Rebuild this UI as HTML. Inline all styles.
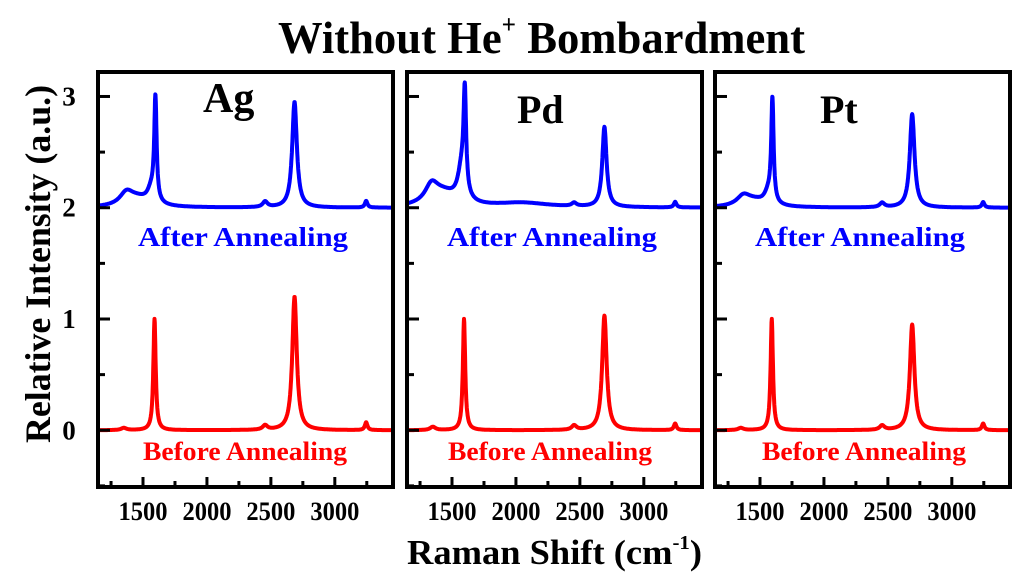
<!DOCTYPE html>
<html><head><meta charset="utf-8"><style>
html,body{margin:0;padding:0;background:#fff;}
svg{display:block;font-family:"Liberation Serif",serif;font-weight:bold;}
</style></head><body>
<svg id="chart" width="1024" height="585" viewBox="0 0 1024 585">
<text x="278" y="53" font-size="46" textLength="527" lengthAdjust="spacingAndGlyphs">Without He<tspan dy="-20" font-size="26">+</tspan><tspan dy="20"> Bombardment</tspan></text>
<text transform="translate(50,264) rotate(-90)" text-anchor="middle" font-size="36" textLength="358" lengthAdjust="spacingAndGlyphs">Relative Intensity (a.u.)</text>
<text x="407" y="564" font-size="35" textLength="295" lengthAdjust="spacingAndGlyphs">Raman Shift (cm<tspan dy="-15" font-size="20">-1</tspan><tspan dy="15">)</tspan></text>
<g id="plots"></g>
</svg>
<script>
// data
const panelNames = ["Ag", "Pd", "Pt"];
const xTicks = [1500, 2000, 2500, 3000];
const yTicks = [0, 1, 2, 3];
// peaks: [center cm-1, height, half-width]
const afterPeaks = [
  [[1370,0.1,60],[1450,0.08,120],[1597,0.92,11],[1565,0.12,35],[2455,0.05,22],[2685,0.95,22],[3245,0.06,12]],
  [[1340,0.15,60],[1430,0.12,130],[1600,0.88,12],[1575,0.28,35],[2050,0.04,250],[2455,0.03,22],[2692,0.72,20],[3245,0.05,12]],
  [[1370,0.08,60],[1450,0.06,120],[1597,0.92,11],[1565,0.1,35],[2455,0.04,22],[2690,0.84,22],[3245,0.05,12]]
];
const beforePeaks = [
  [[1350,0.02,25],[1590,1.0,11],[2455,0.04,22],[2685,1.2,21],[3245,0.07,12]],
  [[1350,0.03,25],[1594,1.0,11],[2455,0.04,22],[2692,1.03,21],[3245,0.06,12]],
  [[1350,0.02,25],[1592,1.0,11],[2455,0.04,22],[2690,0.95,21],[3245,0.06,12]]
];
const afterOffset = 2.0;
const beforeOffset = 0.0;

const NS="http://www.w3.org/2000/svg";
const g=document.getElementById('plots');
const lefts=[98,407,715], W=295, TOP=72, BOT=487;
const X0=1148, X1=3455, Y0=-0.51, Y1=3.22;
const labelPos=[[203,112,42],[517,123,40],[820,123,40]];
const afterX=[138,447,755], beforeX=[143,448,762];
function mk(t,a,p){const e=document.createElementNS(NS,t);for(const k in a)e.setAttribute(k,a[k]);(p||g).appendChild(e);return e;}
function spectrum(peaks,x){let s=0;for(const [c,h,w] of peaks){s+=h*w*w/((x-c)*(x-c)+w*w);}return s;}
panelNames.forEach((name,i)=>{
  const L=lefts[i];
  const sx=v=>L+(v-X0)/(X1-X0)*W;
  const sy=v=>BOT-(v-Y0)/(Y1-Y0)*(BOT-TOP);
  const pg=mk('g',{});
  
  
  [[afterPeaks[i],afterOffset,'#0000ff','after'],[beforePeaks[i],beforeOffset,'#ff0000','before']].forEach(([pk,off,col,lab])=>{
    let d='';
    for(let x=X0+4;x<=X1-4;x+=2){d+=(d?'L':'M')+sx(x).toFixed(1)+','+sy(off+spectrum(pk,x)).toFixed(1);}
    const p=mk('path',{d:d,fill:'none',stroke:col,'stroke-width':4,'stroke-linejoin':'round'},pg);
    
    
  });
  const fr=mk('rect',{x:L,y:TOP,width:W,height:BOT-TOP,fill:'none',stroke:'#000','stroke-width':4},pg);
  
  
  for(let v=1250;v<X1;v+=250){
    const maj=v%500===0;
    const t=mk('line',{x1:sx(v),x2:sx(v),y1:BOT,y2:BOT-(maj?10:6),stroke:'#000','stroke-width':3},pg);
    
    
  }
  xTicks.forEach(v=>{
    const t=mk('text',{x:sx(v),y:520,'text-anchor':'middle','font-size':26,textLength:49,lengthAdjust:'spacingAndGlyphs'},pg);
    t.textContent=v;
    
    
  });
  for(let v=-0.5;v<=3;v+=0.5){
    const maj=Number.isInteger(v);
    const t=mk('line',{x1:L,x2:L+(maj?12:7),y1:sy(v),y2:sy(v),stroke:'#000','stroke-width':3},pg);
    
    
  }
  if(i===0){
    yTicks.forEach(v=>{
      const t=mk('text',{x:L-29,y:sy(v)+9,'text-anchor':'middle','font-size':27},pg);
      t.textContent=v;
      
      
    });
  }
  const [lx,ly,lf]=labelPos[i];
  const nt=mk('text',{x:lx,y:ly,'font-size':lf},pg);
  nt.textContent=name;
  
  
  const a=mk('text',{x:afterX[i],y:246,'font-size':27,fill:'#0000ff',textLength:210,lengthAdjust:'spacingAndGlyphs'},pg);
  a.textContent='After Annealing';
  
  
  const b=mk('text',{x:beforeX[i],y:460,'font-size':26,fill:'#ff0000',textLength:204,lengthAdjust:'spacingAndGlyphs'},pg);
  b.textContent='Before Annealing';
  
  
});
</script>
</body></html>
